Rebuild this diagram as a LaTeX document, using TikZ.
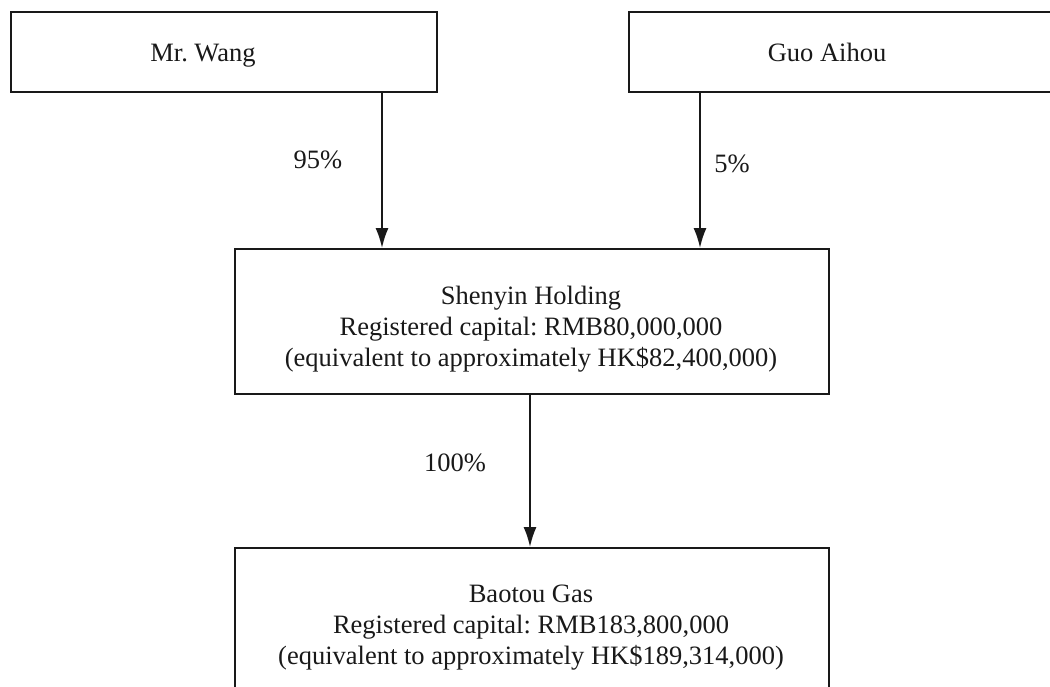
\documentclass[tikz,border=0pt]{standalone}
\usepackage{fontspec}
\setmainfont{Liberation Serif}
\usetikzlibrary{arrows.meta}
\begin{document}
\frenchspacing
\begin{tikzpicture}[x=1pt,y=-1pt,
  box/.style={draw=black!90,line width=1.9pt,rectangle,inner sep=0pt},
  txt/.style={font=\fontsize{26.5}{31}\selectfont,align=center,inner sep=0pt,text=black!90},
  arr/.style={draw=black!90,line width=1.9pt,-{Latex[length=20pt,width=13pt]}}]
\useasboundingbox (0,0) rectangle (1050,687);
\clip (0,0) rectangle (1050,687);
% boxes
\node[box,minimum width=426pt,minimum height=80pt] (wang) at (224,52) {};
\node[box,minimum width=436pt,minimum height=80pt] (guo) at (847,52) {};
\node[box,minimum width=594pt,minimum height=145pt] (shen) at (532,321.5) {};
\node[box,minimum width=594pt,minimum height=160pt] (bao) at (532,628) {};
% texts
\node[txt,anchor=base] (twang) at (203,62) {Mr. Wang};
\node[txt,anchor=base] (tguo) at (827,62) {Guo Aihou};
\node[txt] (tshen) at (531,329) {Shenyin Holding\\Registered capital: RMB80,000,000\\(equivalent to approximately HK\$82,400,000)};
\node[txt] (tbao) at (531,628) {Baotou Gas\\Registered capital: RMB183,800,000\\(equivalent to approximately HK\$189,314,000)};
% connectors
\coordinate (c1) at (382,0);
\coordinate (c2) at (700,0);
\coordinate (c3) at (530,0);
\draw[arr] (wang.south -| c1) -- (shen.north -| c1);
\draw[arr] (guo.south -| c2) -- (shen.north -| c2);
\draw[arr] (shen.south -| c3) -- (bao.north -| c3);
% labels
\node[txt] (l1) at (318,160) {95\%};
\node[txt] (l2) at (732,164) {5\%};
\node[txt] (l3) at (455,463) {100\%};
\end{tikzpicture}
\end{document}
